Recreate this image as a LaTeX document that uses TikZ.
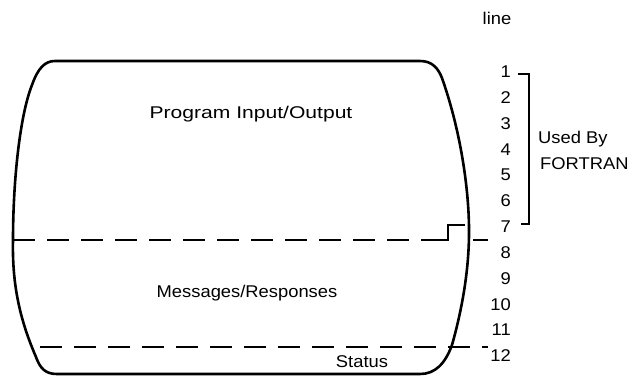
\documentclass[tikz,border=0pt]{standalone}
\usepackage{fontspec}
\setmainfont{Liberation Sans}
\newfontfamily\lblfont[FakeStretch=1.08]{Liberation Sans}
\newfontfamily\widefont[FakeStretch=1.24]{Liberation Sans}
\begin{document}
\begin{tikzpicture}[x=1pt,y=-1pt,
  outline/.style={line width=2.6pt, line join=round},
  divider/.style={line width=1.4pt, dash pattern=on 22pt off 12pt},
  cursorline/.style={line width=1.4pt},
  bracket/.style={line width=1.8pt},
  lbl/.style={font=\lblfont\fontsize{17}{20}\selectfont, inner sep=0pt},
  num/.style={lbl, anchor=east}]
\useasboundingbox (0,0) rectangle (639,378);

% screen outline
\draw[outline] (55,61) -- (420,61)
  .. controls (432,61) and (438,68) .. (442,78)
  .. controls (462,135) and (469.5,195) .. (469,235)
  .. controls (468.5,280) and (459,320) .. (452,345)
  .. controls (445,364) and (435,374) .. (420,374)
  -- (57,374)
  .. controls (45,374) and (40,368) .. (36,357)
  .. controls (20,320) and (12,285) .. (13,240)
  .. controls (13,180) and (20,115) .. (32,85)
  .. controls (38,68) and (45,61) .. (55,61) -- cycle;

% area dividers
\draw[divider] (13,240) -- (437,240);
\draw[cursorline] (437,240) -- (448,240) -- (448,225) -- (465,225);
\draw[cursorline] (473,240) -- (488,240);
\draw[divider] (40,347) -- (488,347);

% area labels
\node[lbl, font=\widefont\fontsize{17}{20}\selectfont, anchor=base] (pio) at (251,118) {Program Input/Output};
\node[lbl, anchor=base] (msg) at (247,297) {Messages/Responses};
\node[lbl, anchor=base] (stat) at (362,367) {Status};

% line numbers
\node[lbl, anchor=center] (hdr) at (497,18) {line};
\foreach \n in {1,...,12}
  \node[num] (n\n) at (511,{72+25.8*(\n-1)}) {\n};

% FORTRAN bracket
\draw[bracket] (518,74) -- (529,74) -- (529,224) -- (521,224);
\node[lbl, anchor=base west] (used) at (538,143) {Used By};
\node[lbl, anchor=base west] (fort) at (540,169) {FORTRAN};
\end{tikzpicture}
\end{document}
